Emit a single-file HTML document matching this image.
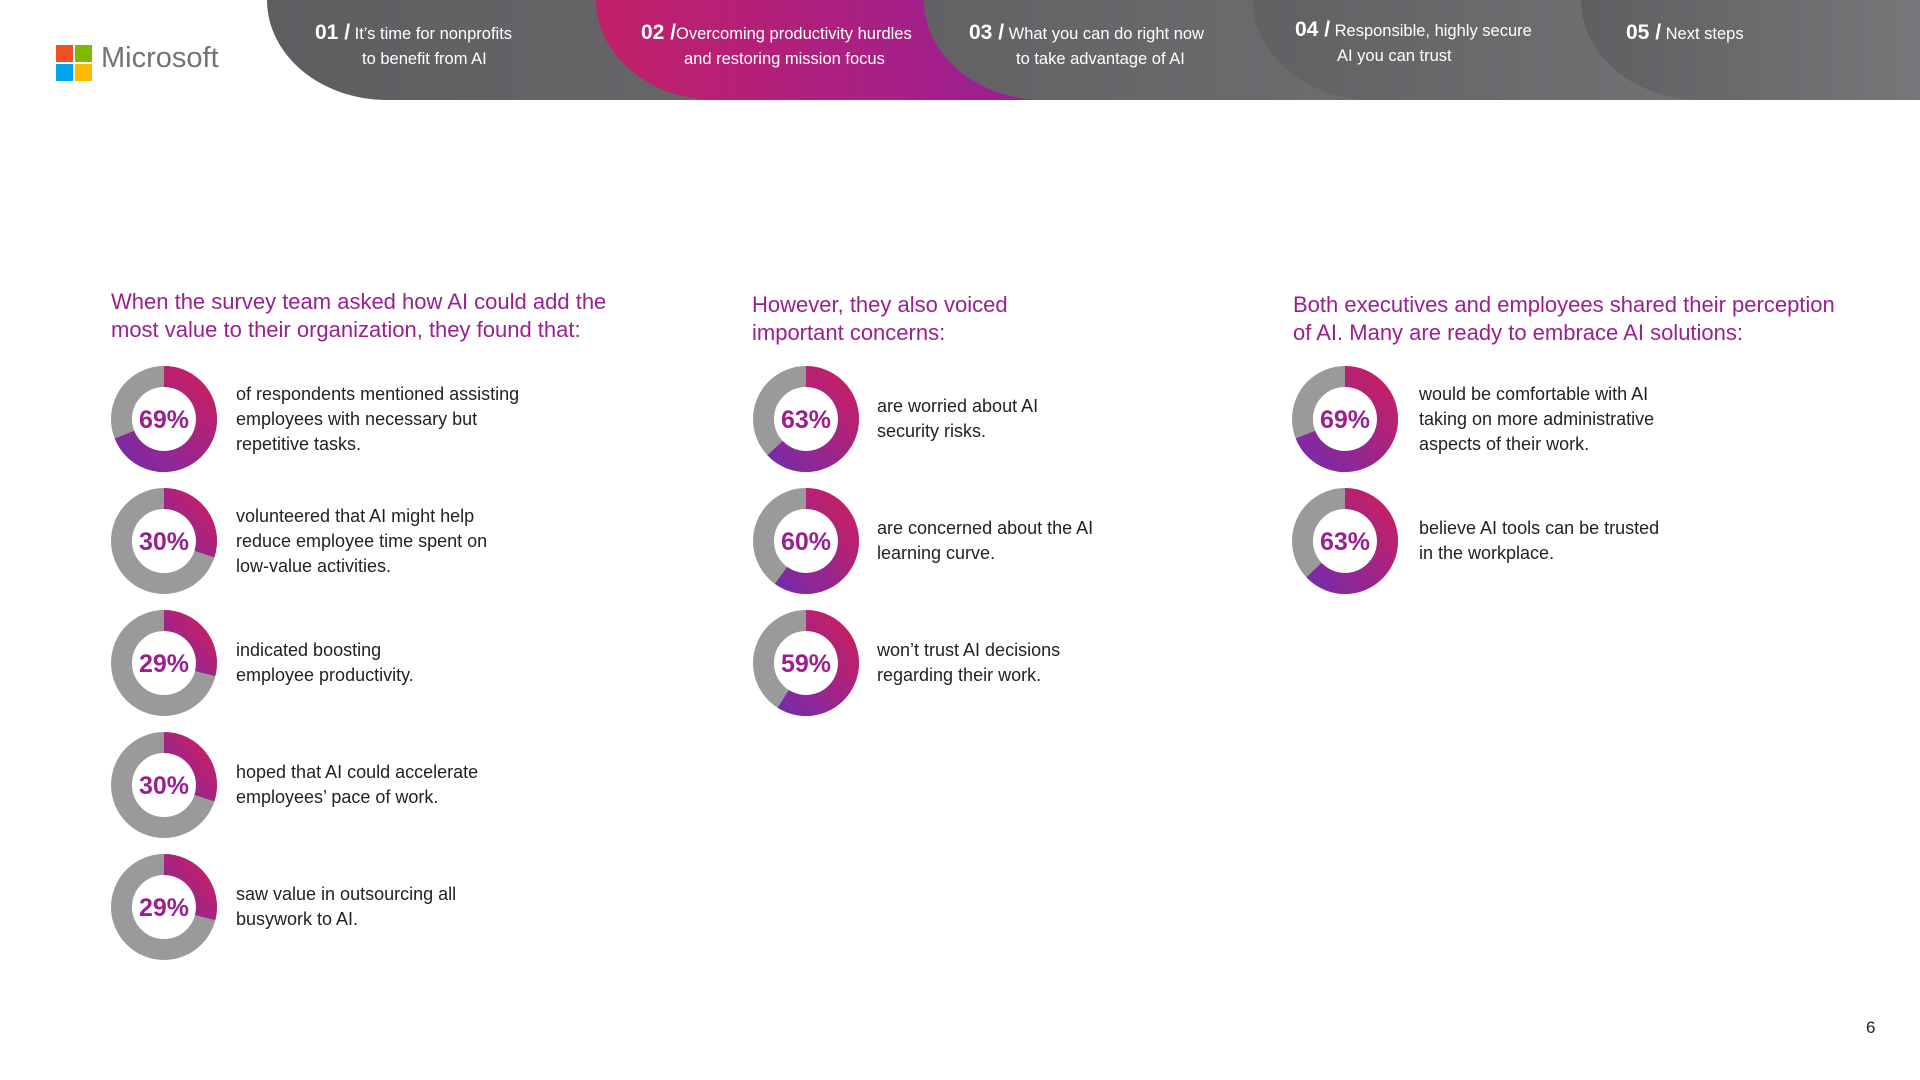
<!DOCTYPE html>
<html><head><meta charset="utf-8">
<style>
body{margin:0;width:1920px;height:1080px;background:#fff;position:relative;overflow:hidden;font-family:"Liberation Sans",sans-serif;}
.tab{position:absolute;top:0;height:100px;border-bottom-left-radius:120px 100px;color:#fff;}
.tab .t{position:absolute;top:20px;font-size:16.5px;line-height:25px;white-space:nowrap;}
.tab b{font-size:21px;}
.logo{position:absolute;left:56px;top:45px;}
.sq{position:absolute;width:17px;height:17px;}
.h{position:absolute;color:#9b1f8f;font-size:22px;line-height:28px;}
.desc{position:absolute;font-size:18px;line-height:25px;color:#222;}
</style></head><body>
<div class="tab" style="left:267px;width:1653px;background:linear-gradient(90deg,#5e5e61,#7d7d80);z-index:1"><div class="t" style="left:48px"><b>01 /</b> It’s time for nonprofits<br><span style="padding-left:47px">to benefit from AI</span></div></div>
<div class="tab" style="left:596px;width:1324px;background:linear-gradient(90deg,#c22067,#8b1fa6 45%,#7a7a7d 45.1%);z-index:2"><div class="t" style="left:45px"><b>02 /</b>Overcoming productivity hurdles<br><span style="padding-left:43px">and restoring mission focus</span></div></div>
<div class="tab" style="left:924px;width:996px;background:linear-gradient(90deg,#626265,#7b7b7e);z-index:3"><div class="t" style="left:45px"><b>03 /</b> What you can do right now<br><span style="padding-left:47px">to take advantage of AI</span></div></div>
<div class="tab" style="left:1253px;width:667px;background:linear-gradient(90deg,#616164,#7b7b7e);z-index:4"><div class="t" style="left:42px;top:17px"><b>04 /</b> Responsible, highly secure<br><span style="padding-left:42px">AI you can trust</span></div></div>
<div class="tab" style="left:1581px;width:339px;background:linear-gradient(90deg,#5f5f62,#77777a);z-index:5"><div class="t" style="left:45px"><b>05 /</b> Next steps</div></div>

<div class="logo">
<div class="sq" style="left:0;top:0;background:#f25022"></div><div class="sq" style="left:19px;top:0;background:#7fba00"></div>
<div class="sq" style="left:0;top:19px;background:#00a4ef"></div><div class="sq" style="left:19px;top:19px;background:#ffb900"></div>
<div style="position:absolute;left:45px;top:-3px;font-size:29px;color:#737373;">Microsoft</div></div>

<div class="h" style="left:111px;top:288px">When the survey team asked how AI could add the<br>most value to their organization, they found that:</div>
<div class="h" style="left:752px;top:291px">However, they also voiced<br>important concerns:</div>
<div class="h" style="left:1293px;top:291px">Both executives and employees shared their perception<br>of AI. Many are ready to embrace AI solutions:</div>

<svg id="chart" width="1920" height="1080" style="position:absolute;left:0;top:0">
<defs><linearGradient id="g" x1="1" y1="0" x2="0" y2="1"><stop offset="0" stop-color="#c91f62"/><stop offset="1" stop-color="#7a2aa8"/></linearGradient></defs>
</svg>
<div style="position:absolute;left:1866px;top:1018px;font-size:17px;color:#222">6</div>
<script>
const values=[69,30,29,30,29,63,60,59,69,63];
const columns=[0,0,0,0,0,1,1,1,2,2];
const rows=[0,1,2,3,4,0,1,2,0,1];
const descriptions=[
"of respondents mentioned assisting<br>employees with necessary but<br>repetitive tasks.",
"volunteered that AI might help<br>reduce employee time spent on<br>low-value activities.",
"indicated boosting<br>employee productivity.",
"hoped that AI could accelerate<br>employees’ pace of work.",
"saw value in outsourcing all<br>busywork to AI.",
"are worried about AI<br>security risks.",
"are concerned about the AI<br>learning curve.",
"won’t trust AI decisions<br>regarding their work.",
"would be comfortable with AI<br>taking on more administrative<br>aspects of their work.",
"believe AI tools can be trusted<br>in the workplace."];
const colX=[164,806,1345], textX=[236,877,1419];
const rowY=r=>419+r*122;
const svg=document.getElementById('chart');
const NS='http://www.w3.org/2000/svg';
const R=53,r0=32,rm=(R+r0)/2,w=R-r0;
values.forEach((v,i)=>{
  const cx=colX[columns[i]],cy=rowY(rows[i]);
  const bg=document.createElementNS(NS,'circle');
  bg.setAttribute('cx',cx);bg.setAttribute('cy',cy);bg.setAttribute('r',rm);
  bg.setAttribute('fill','none');bg.setAttribute('stroke','#9a9a9a');bg.setAttribute('stroke-width',w);
  
  
  svg.appendChild(bg);
  const a=v/100*2*Math.PI;
  const x1=cx,y1=cy-rm,x2=cx+rm*Math.sin(a),y2=cy-rm*Math.cos(a);
  const p=document.createElementNS(NS,'path');
  p.setAttribute('d',`M${x1} ${y1} A${rm} ${rm} 0 ${v>50?1:0} 1 ${x2} ${y2}`);
  p.setAttribute('fill','none');p.setAttribute('stroke','url(#g)');p.setAttribute('stroke-width',w);
  
  
  svg.appendChild(p);
  const t=document.createElementNS(NS,'text');
  t.setAttribute('x',cx);t.setAttribute('y',cy+9);t.setAttribute('text-anchor','middle');
  t.setAttribute('font-family','Liberation Sans, sans-serif');t.setAttribute('font-weight','bold');
  t.setAttribute('font-size','25');t.setAttribute('fill','#9b1f8f');t.textContent=v+'%';
  
  
  svg.appendChild(t);
  const d=document.createElement('div');
  d.className='desc';d.innerHTML=descriptions[i];
  const lines=descriptions[i].split('<br>').length;
  d.style.left=textX[columns[i]]+'px';d.style.top=(cy-lines*25/2)+'px';
  
  
  document.body.appendChild(d);
});
</script>
</body></html>
